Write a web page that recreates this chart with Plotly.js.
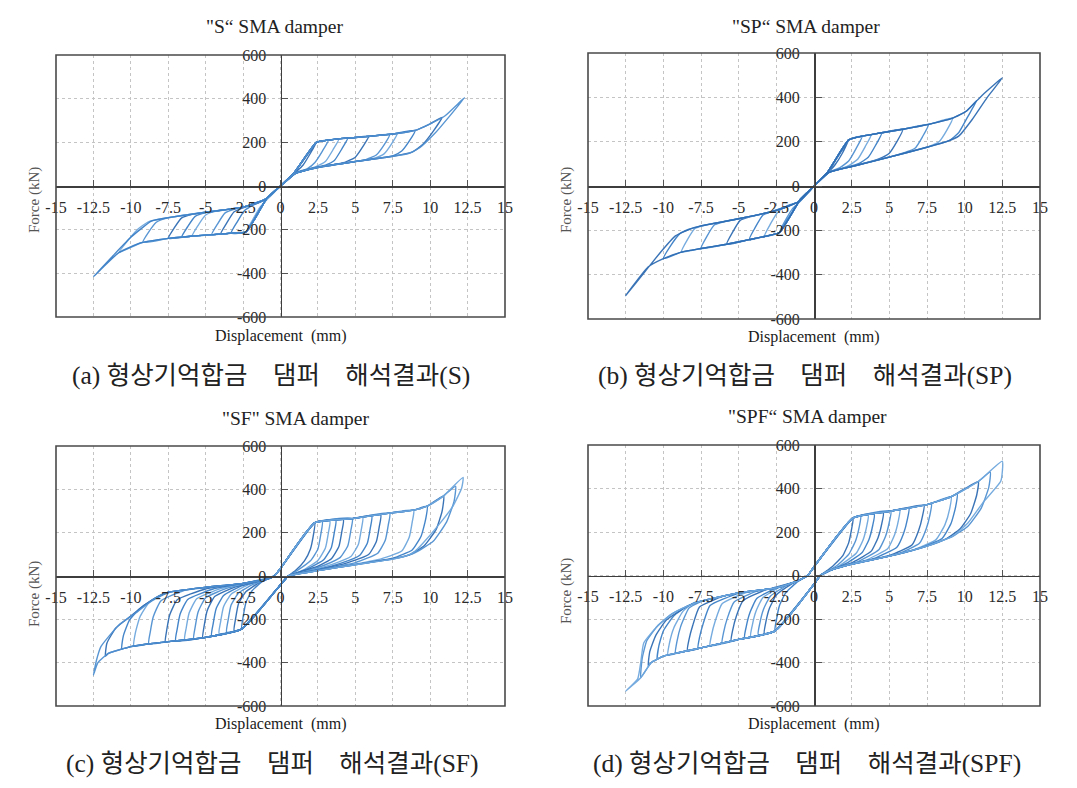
<!DOCTYPE html>
<html>
<head>
<meta charset="utf-8">
<script src="https://cdn.plot.ly/plotly-3.0.1.min.js"></script>
<style>html,body{margin:0;padding:0;background:#fff}#chart{width:1077px;height:788px}</style>
</head>
<body>
<div id="chart"></div>
<script>
// ---------- tick values ----------
const xTicks = [-15,-12.5,-10,-7.5,-5,-2.5,0,2.5,5,7.5,10,12.5,15];
const xTickText = ['-15','-12.5','-10','-7.5','-5','-2.5','0','2.5','5','7.5','10','12.5','15'];
const yTicks = [-600,-400,-200,0,200,400,600];
const yTickText = ['-600','-400','-200','0','200','400','600'];

// ---------- texts ----------
const panelTitles = ['"S\u201C SMA damper', '"SP\u201C SMA damper', '"SF" SMA damper', '"SPF\u201C SMA damper'];
const gap = '\u00a0\u00a0\u00a0 ';
const captions = ['(a) 형상기억합금' + gap + '댐퍼' + gap + '해석결과(S)', '(b) 형상기억합금' + gap + '댐퍼' + gap + '해석결과(SP)',
                  '(c) 형상기억합금' + gap + '댐퍼' + gap + '해석결과(SF)', '(d) 형상기억합금' + gap + '댐퍼' + gap + '해석결과(SPF)'];
const xTitle = 'Displacement\u00a0 (mm)';
const yTitle = 'Force (kN)';

// ---------- data: displacement (mm) / force (kN), loops separated by null ----------
const S_pos_x = [
0,0.9,2.4,2.0,1.5,1.0,0, null,
0,0.9,2.4,3.2,2.8,2.3,1.8,1,0, null,
0,0.9,2.4,3.2,3.9,3.5,3.0,2.4,1.5,1,0, null,
0,0.9,2.4,3.2,4,4.5,4.1,3.6,3.0,2,1,0, null,
0,0.9,2.4,3.2,4,5,5.9,5.5,5.0,4.3,3,2,1,0, null,
0,0.9,2.4,3.2,4,5,6,7.3,6.9,6.4,5.7,4,2.5,1,0, null,
0,0.9,2.4,3.2,4,5,6,7.5,7.8,7.4,6.9,6.2,5,2.5,1,0, null,
0,0.9,2.4,3.2,4,5,6,7.5,9,8.6,8.1,7.5,5,2.5,1,0, null,
0,0.9,2.4,3.2,4,5,6,7.5,9,10,10.8,10.2,9.5,8.8,7.5,5,2.5,1,0, null,
0,0.9,2.4,3.2,4,5,6,7.5,9,10,11,12.3,11.3,10.3,9.3,8.6,7.5,5,2.5,1,0];
const S_pos_y = [
0,60,200,150,95,62,0, null,
0,60,200,210,160,108,80,60,0, null,
0,60,200,210,216,165,112,90,70,59,0, null,
0,60,200,210,217,220,170,117,96,79,58,0, null,
0,60,200,210,217,222,228,180,132,108,92,78,58,0, null,
0,60,200,210,217,222,228,236,186,142,121,102,86,58,0, null,
0,60,200,210,217,222,228,238,241,191,146,126,112,85,58,0, null,
0,60,200,210,217,222,228,238,255,205,160,138,112,85,58,0, null,
0,60,200,210,217,222,228,238,255,285,315,250,190,155,136,112,85,58,0, null,
0,60,200,210,217,222,228,238,255,285,322,405,320,240,175,150,136,112,85,58,0];
const S_neg_x = [
0,-0.9,-2.3,-1.9,-1.4,-0.9,0, null,
0,-0.9,-2.3,-3.3,-2.9,-2.4,-1.8,-1,0, null,
0,-0.9,-2.3,-3.3,-4,-3.6,-3.1,-2.5,-1.5,-1,0, null,
0,-0.9,-2.3,-3.3,-4,-4.6,-4.2,-3.7,-3.0,-2,-1,0, null,
0,-0.9,-2.3,-3.3,-4,-5,-5.9,-5.5,-5.0,-4.3,-2.5,-1,0, null,
0,-0.9,-2.3,-3.3,-4,-5,-6,-6.6,-6.2,-5.7,-5.0,-2.5,-1,0, null,
0,-0.9,-2.3,-3.3,-4,-5,-6,-7.5,-7.1,-6.6,-5.9,-5,-2.5,-1,0, null,
0,-0.9,-2.3,-3.3,-4,-5,-6,-7.5,-9.2,-8.8,-8.3,-7.6,-5,-2.5,-1,0, null,
0,-0.9,-2.3,-3.3,-4,-5,-6,-7.5,-9.3,-10.8,-10.2,-9.5,-8.8,-7.5,-5,-2.5,-1,0, null,
0,-0.9,-2.3,-3.3,-4,-5,-6,-7.5,-9.3,-10.8,-12.5,-11.2,-10,-8.6,-7.5,-5,-2.5,-1,0];
const S_neg_y = [
0,-55,-210,-160,-100,-62,0, null,
0,-55,-210,-216,-165,-112,-86,-60,0, null,
0,-55,-210,-216,-220,-170,-118,-100,-78,-60,0, null,
0,-55,-210,-216,-220,-223,-173,-123,-104,-88,-60,0, null,
0,-55,-210,-216,-220,-225,-229,-180,-133,-114,-97,-60,0, null,
0,-55,-210,-216,-220,-225,-230,-234,-186,-139,-122,-97,-60,0, null,
0,-55,-210,-216,-220,-225,-230,-240,-192,-146,-130,-120,-97,-60,0, null,
0,-55,-210,-216,-220,-225,-230,-240,-258,-210,-166,-147,-120,-97,-60,0, null,
0,-55,-210,-216,-220,-225,-230,-240,-260,-305,-250,-196,-163,-145,-120,-97,-60,0, null,
0,-55,-210,-216,-220,-225,-230,-240,-260,-305,-415,-320,-235,-160,-145,-120,-97,-60,0];

const SP_pos_x = [
0,0.9,2.3,1.9,1.4,1,0, null,
0,0.9,2.3,3.2,2.8,2.3,1.7,1,0, null,
0,0.9,2.3,3.2,3.8,3.4,2.9,2.3,1.5,1,0, null,
0,0.9,2.3,3.2,3.8,4.5,4.1,3.6,3.0,2,1,0, null,
0,0.9,2.3,3.2,3.8,4.5,5.9,5.5,5.0,4.3,3,2,1,0, null,
0,0.9,2.3,3.2,3.8,4.5,5.9,7.6,7.2,6.7,6.0,5,2.5,1,0, null,
0,0.9,2.3,3.2,3.8,4.5,5.9,7.6,9.2,8.8,8.3,7.6,5,2.5,1,0, null,
0,0.9,2.3,3.2,3.8,4.5,5.9,7.6,9.2,10.1,10.8,10.2,9.6,9.0,7.5,5,2.5,1,0, null,
0,0.9,2.3,3.2,3.8,4.5,5.9,7.6,9.2,10.1,11.2,12.5,11.5,10.5,9.6,8.8,7.5,5,2.5,1,0];
const SP_pos_y = [
0,62,208,150,96,66,0, null,
0,62,208,225,170,113,82,63,0, null,
0,62,208,225,232,178,121,92,72,62,0, null,
0,62,208,225,232,240,185,130,102,81,62,0, null,
0,62,208,225,232,240,256,200,148,122,96,80,62,0, null,
0,62,208,225,232,240,256,278,222,170,150,131,88,62,0, null,
0,62,208,225,232,240,256,278,306,250,200,178,130,88,62,0, null,
0,62,208,225,232,240,256,278,306,337,385,312,240,206,175,130,88,62,0, null,
0,62,208,225,232,240,256,278,306,337,412,488,400,300,225,200,175,130,88,62,0];
const SP_neg_x = [
0,-0.9,-2.3,-1.9,-1.4,-0.9,0, null,
0,-0.9,-2.3,-3.3,-2.9,-2.4,-1.8,-1,0, null,
0,-0.9,-2.3,-3.3,-4.3,-3.9,-3.4,-2.8,-1.8,-1,0, null,
0,-0.9,-2.3,-3.3,-4.3,-5.8,-5.4,-4.9,-4.2,-2.5,-1,0, null,
0,-0.9,-2.3,-3.3,-4.3,-5.8,-7.5,-7.1,-6.6,-5.9,-5,-2.5,-1,0, null,
0,-0.9,-2.3,-3.3,-4.3,-5.8,-7.5,-8.8,-8.4,-7.9,-7.2,-5,-2.5,-1,0, null,
0,-0.9,-2.3,-3.3,-4.3,-5.8,-7.5,-8.8,-10,-9.5,-8.9,-8.3,-7.5,-5,-2.5,-1,0, null,
0,-0.9,-2.3,-3.3,-4.3,-5.8,-7.5,-8.8,-10,-11,-12.5,-11.2,-10.2,-9.2,-8.5,-7.5,-5,-2.5,-1,0];
const SP_neg_y = [
0,-60,-210,-155,-100,-68,0, null,
0,-60,-210,-228,-172,-118,-90,-70,0, null,
0,-60,-210,-228,-242,-187,-132,-115,-92,-70,0, null,
0,-60,-210,-228,-242,-263,-208,-155,-138,-110,-70,0, null,
0,-60,-210,-228,-242,-263,-282,-226,-175,-160,-148,-110,-70,0, null,
0,-60,-210,-228,-242,-263,-282,-298,-242,-192,-176,-148,-110,-70,0, null,
0,-60,-210,-228,-242,-263,-282,-298,-328,-268,-215,-195,-180,-148,-110,-70,0, null,
0,-60,-210,-228,-242,-263,-282,-298,-328,-365,-494,-385,-300,-225,-202,-180,-148,-110,-70,0];

const SF_pos_x = [
-0.4,0,2.3,2.2,2.0,1.6,1,0.5, null,
-0.4,0,2.3,2.8,2.7,2.5,2.0,1,0.5, null,
-0.4,0,2.3,3.3,3.2,3.0,2.5,1.5,0.5, null,
-0.4,0,2.3,3.7,3.6,3.4,2.9,2,1,0.5, null,
-0.4,0,2.3,4.2,4.1,3.9,3.4,2.5,1,0.5, null,
-0.4,0,2.3,4.8,4.7,4.5,4.0,3,1.5,0.5, null,
-0.4,0,2.3,4.8,5.5,5.4,5.2,4.7,3.5,2,1,0.5, null,
-0.4,0,2.3,4.8,6.1,6.0,5.8,5.3,4,2.5,1,0.5, null,
-0.4,0,2.3,4.8,6.7,6.6,6.4,5.9,4.5,2.5,1,0.5, null,
-0.4,0,2.3,4.8,7.3,7.2,7.0,6.5,5,2.5,1,0.5, null,
-0.4,0,2.3,4.8,7.3,8.9,8.8,8.6,8.1,6.5,5,2.5,1,0.5, null,
-0.4,0,2.3,4.8,7.3,8.9,9.8,9.7,9.4,8.8,7.5,5,2.5,1,0.5, null,
-0.4,0,2.3,4.8,7.3,8.9,9.8,10.9,10.8,10.4,9.6,8.6,7.5,5,2.5,1,0.5, null,
-0.4,0,2.3,4.8,7.3,8.9,9.8,10.9,11.7,11.6,11.1,10.2,9,8.5,7.5,5,2.5,1,0.5, null,
-0.4,0,2.3,4.8,7.3,8.9,9.8,10.9,12.2,12.1,11.5,10.5,9.5,9,8.5,7.5,5,2.5,1,0.5];
const SF_pos_y = [
0,35,246,190,125,70,25,0, null,
0,35,246,250,195,125,70,20,0, null,
0,35,246,254,199,129,72,27,0, null,
0,35,246,257,202,132,76,40,12,0, null,
0,35,246,261,206,136,80,45,12,0, null,
0,35,246,265,210,140,86,52,18,0, null,
0,35,246,265,270,215,145,90,55,25,9,0, null,
0,35,246,265,276,221,151,96,58,30,9,0, null,
0,35,246,265,283,228,158,100,62,28,8,0, null,
0,35,246,265,290,235,165,105,62,27,8,0, null,
0,35,246,265,290,304,249,179,115,75,55,25,8,0, null,
0,35,246,265,290,304,322,262,185,120,82,53,25,8,0, null,
0,35,246,265,290,304,322,370,300,215,140,97,80,52,25,8,0, null,
0,35,246,265,290,304,322,370,415,345,250,160,108,95,78,52,25,8,0, null,
0,35,246,265,290,304,322,370,455,405,320,230,150,115,95,78,52,25,8,0];
const SF_neg_x = [
0.5,0,-2.6,-2.5,-2.3,-1.9,-1.2,-0.4, null,
0.5,0,-2.6,-3.1,-3.0,-2.8,-2.3,-1.4,-0.4, null,
0.5,0,-2.6,-3.6,-3.5,-3.3,-2.8,-1.8,-0.8,-0.4, null,
0.5,0,-2.6,-4.1,-4.0,-3.8,-3.3,-2.2,-0.8,-0.4, null,
0.5,0,-2.6,-4.6,-4.5,-4.3,-3.8,-2.6,-0.8,-0.4, null,
0.5,0,-2.6,-5,-5.2,-5.1,-4.9,-4.4,-3,-1,-0.4, null,
0.5,0,-2.6,-5,-5.8,-5.7,-5.5,-5.0,-3.5,-1,-0.4, null,
0.5,0,-2.6,-5,-6.4,-6.3,-6.1,-5.6,-4,-2,-0.4, null,
0.5,0,-2.6,-5,-7.0,-6.9,-6.7,-6.2,-4.5,-2.5,-0.8,-0.4, null,
0.5,0,-2.6,-5,-7.5,-7.7,-7.6,-7.4,-6.9,-5,-2.5,-0.8,-0.4, null,
0.5,0,-2.6,-5,-7.5,-8.8,-8.7,-8.5,-8.0,-6.5,-5,-2.5,-0.8,-0.4, null,
0.5,0,-2.6,-5,-7.5,-9,-9.8,-9.7,-9.4,-8.8,-7.5,-5,-2.5,-0.8,-0.4, null,
0.5,0,-2.6,-5,-7.5,-9,-10,-10.6,-10.5,-10.1,-9.4,-8.4,-7.5,-5,-2.5,-0.8,-0.4, null,
0.5,0,-2.6,-5,-7.5,-9,-10,-11.5,-11.7,-11.6,-11.0,-10,-9,-8.4,-7.5,-5,-2.5,-0.8,-0.4, null,
0.5,0,-2.6,-5,-7.5,-9,-10,-11.5,-12.2,-12.5,-12.3,-12,-10.8,-9.7,-8.4,-7.5,-5,-2.5,-0.8,-0.4];
const SF_neg_y = [
0,-40,-245,-190,-120,-68,-25,0, null,
0,-40,-245,-252,-197,-127,-72,-30,0, null,
0,-40,-245,-259,-204,-134,-78,-38,-12,0, null,
0,-40,-245,-266,-211,-141,-84,-42,-12,0, null,
0,-40,-245,-276,-221,-151,-90,-46,-12,0, null,
0,-40,-245,-283,-285,-230,-160,-95,-50,-15,0, null,
0,-40,-245,-283,-290,-235,-165,-100,-55,-15,0, null,
0,-40,-245,-283,-295,-240,-170,-105,-58,-28,0, null,
0,-40,-245,-283,-299,-244,-174,-108,-60,-34,-12,0, null,
0,-40,-245,-283,-303,-304,-249,-179,-110,-60,-34,-12,0, null,
0,-40,-245,-283,-303,-313,-258,-188,-115,-68,-54,-34,-12,0, null,
0,-40,-245,-283,-303,-315,-324,-264,-190,-125,-78,-52,-34,-12,0, null,
0,-40,-245,-283,-303,-315,-326,-336,-276,-205,-150,-103,-75,-52,-34,-12,0, null,
0,-40,-245,-283,-303,-315,-326,-357,-370,-310,-240,-185,-130,-103,-75,-52,-34,-12,0, null,
0,-40,-245,-283,-303,-315,-326,-357,-400,-457,-390,-326,-226,-172,-103,-75,-52,-34,-12,0];

const SPF_pos_x = [
-0.4,0,2.6,2.5,2.3,1.9,1.2,0.4, null,
-0.4,0,2.6,3.1,3.0,2.75,2.3,1.5,0.4, null,
-0.4,0,2.6,3.6,3.5,3.25,2.8,1.8,0.8,0.4, null,
-0.4,0,2.6,4.0,3.9,3.65,3.2,2.2,1,0.4, null,
-0.4,0,2.6,4.6,4.5,4.25,3.8,2.6,1,0.4, null,
-0.4,0,2.6,5.1,5.0,4.75,4.3,3,1,0.4, null,
-0.4,0,2.6,5.1,5.7,5.6,5.35,4.9,3.5,2,1,0.4, null,
-0.4,0,2.6,5.1,6.3,6.2,5.95,5.5,4,2.5,1,0.4, null,
-0.4,0,2.6,5.1,7.3,7.2,6.95,6.5,5,2.5,1,0.4, null,
-0.4,0,2.6,5.1,7.5,7.8,7.7,7.45,7.0,5.5,2.5,1,0.4, null,
-0.4,0,2.6,5.1,7.5,9.1,9.0,8.7,8.1,6.5,5,2.5,1,0.4, null,
-0.4,0,2.6,5.1,7.5,9.1,9.5,9.4,9.1,8.5,7,5,2.5,1,0.4, null,
-0.4,0,2.6,5.1,7.5,9.1,10.9,10.8,10.4,9.7,8.8,7.5,5,2.5,1,0.4, null,
-0.4,0,2.6,5.1,7.5,9.1,10.9,11.7,11.6,11.1,10.2,9.2,8.5,7.5,5,2.5,1,0.4, null,
-0.4,0,2.6,5.1,7.5,9.1,10.9,12.5,12.4,11.2,10.2,9.2,8.5,7.5,5,2.5,1,0.4];
const SPF_pos_y = [
0,40,265,215,150,90,40,0, null,
0,40,265,272,222,157,97,45,0, null,
0,40,265,277,227,162,102,50,12,0, null,
0,40,265,281,231,166,106,58,20,0, null,
0,40,265,289,239,174,112,62,22,0, null,
0,40,265,296,246,181,118,66,22,0, null,
0,40,265,296,302,252,187,124,72,42,22,0, null,
0,40,265,296,309,259,194,130,78,52,22,0, null,
0,40,265,296,323,273,208,140,92,52,22,0, null,
0,40,265,296,326,330,280,215,148,98,52,22,0, null,
0,40,265,296,326,362,305,235,165,115,89,52,22,0, null,
0,40,265,296,326,362,375,315,240,170,125,89,52,22,0, null,
0,40,265,296,326,362,432,370,285,215,170,135,89,52,22,0, null,
0,40,265,296,326,362,432,475,405,310,225,180,160,135,89,52,22,0, null,
0,40,265,296,326,362,432,526,434,334,240,180,160,135,89,52,22,0];
const SPF_neg_x = [
0.4,0,-2.6,-2.5,-2.3,-1.9,-1.2,-0.4, null,
0.4,0,-2.6,-3.3,-3.2,-2.95,-2.5,-1.5,-0.4, null,
0.4,0,-2.6,-3.7,-3.6,-3.35,-2.9,-1.8,-0.8,-0.4, null,
0.4,0,-2.6,-4.2,-4.1,-3.85,-3.4,-2.3,-1.1,-0.4, null,
0.4,0,-2.6,-4.6,-4.5,-4.25,-3.8,-2.6,-1.1,-0.4, null,
0.4,0,-2.6,-5,-5.5,-5.4,-5.15,-4.7,-3.3,-1.1,-0.4, null,
0.4,0,-2.6,-5,-6.1,-6.0,-5.75,-5.3,-3.8,-2.5,-1.1,-0.4, null,
0.4,0,-2.6,-5,-6.9,-6.8,-6.55,-6.1,-4.5,-2.5,-1.1,-0.4, null,
0.4,0,-2.6,-5,-7.5,-7.7,-7.6,-7.35,-6.9,-5,-2.5,-1.1,-0.4, null,
0.4,0,-2.6,-5,-7.5,-8.4,-8.3,-8.05,-7.6,-6,-5,-2.5,-1.1,-0.4, null,
0.4,0,-2.6,-5,-7.5,-9,-9.2,-9.1,-8.85,-8.3,-7.5,-5,-2.5,-1.1,-0.4, null,
0.4,0,-2.6,-5,-7.5,-9,-9.7,-9.6,-9.3,-8.7,-8.0,-7.5,-5,-2.5,-1.1,-0.4, null,
0.4,0,-2.6,-5,-7.5,-9,-10,-10.4,-10.3,-10.0,-9.3,-8.4,-7.5,-5,-2.5,-1.1,-0.4, null,
0.4,0,-2.6,-5,-7.5,-9,-10,-10.8,-11.0,-10.9,-10.5,-9.8,-8.4,-7.5,-5,-2.5,-1.1,-0.4, null,
0.4,0,-2.6,-5,-7.5,-9,-10,-10.8,-11.5,-11.4,-11.1,-10.4,-9.5,-8.4,-7.5,-5,-2.5,-1.1,-0.4, null,
0.4,0,-2.6,-5,-7.5,-9,-10,-10.8,-11.5,-12.5,-11.7,-11.5,-11.3,-10.4,-9.4,-8.4,-7.5,-5,-2.5,-1.1,-0.4];
const SPF_neg_y = [
0,-40,-256,-206,-140,-82,-35,0, null,
0,-40,-256,-266,-216,-150,-90,-40,0, null,
0,-40,-256,-271,-221,-155,-95,-45,-15,0, null,
0,-40,-256,-280,-230,-164,-102,-55,-26,0, null,
0,-40,-256,-286,-236,-170,-106,-60,-26,0, null,
0,-40,-256,-294,-302,-252,-186,-115,-68,-26,0, null,
0,-40,-256,-294,-312,-262,-196,-122,-72,-57,-26,0, null,
0,-40,-256,-294,-324,-274,-208,-130,-78,-57,-26,0, null,
0,-40,-256,-294,-333,-336,-286,-220,-138,-82,-57,-26,0, null,
0,-40,-256,-294,-333,-346,-296,-230,-145,-95,-80,-57,-26,0, null,
0,-40,-256,-294,-333,-355,-358,-305,-235,-150,-120,-80,-57,-26,0, null,
0,-40,-256,-294,-333,-355,-366,-313,-240,-165,-126,-118,-80,-57,-26,0, null,
0,-40,-256,-294,-333,-355,-371,-385,-325,-255,-185,-141,-118,-80,-57,-26,0, null,
0,-40,-256,-294,-333,-355,-371,-400,-415,-350,-275,-205,-141,-118,-80,-57,-26,0, null,
0,-40,-256,-294,-333,-355,-371,-400,-470,-380,-300,-233,-180,-141,-118,-80,-57,-26,0, null,
0,-40,-256,-294,-333,-355,-371,-400,-470,-532,-475,-400,-310,-233,-175,-141,-118,-80,-57,-26,0];

// ---------- layout geometry (pixels in the 1077x788 page) ----------
const W = 1077, H = 788;
const panels = [
  {data:[[S_pos_x,S_pos_y],[S_neg_x,S_neg_y]],     box:[56,505,55,317],  title:[274,27],  cap:[271,375], xt:[281,336], yt:[34,200]},
  {data:[[SP_pos_x,SP_pos_y],[SP_neg_x,SP_neg_y]], box:[588,1040,53,319],title:[806,27],  cap:[805,375], xt:[814,337], yt:[566,200]},
  {data:[[SF_pos_x,SF_pos_y],[SF_neg_x,SF_neg_y]], box:[56,505,446,706], title:[296,418], cap:[272,763], xt:[281,724], yt:[34,594]},
  {data:[[SPF_pos_x,SPF_pos_y],[SPF_neg_x,SPF_neg_y]],box:[588,1040,445,706],title:[807,417],cap:[807,763],xt:[814,724],yt:[566,591]}
];
const lineColors = ['#2f6db3','#4f8fd1','#6ea6dc','#3a7ec6'];
const serif = 'Liberation Serif, Times New Roman, serif';

function splitLoops(xs, ys) {
  const out = []; let cx = [], cy = [];
  for (let i = 0; i < xs.length; i++) {
    if (xs[i] === null) { if (cx.length) out.push([cx, cy]); cx = []; cy = []; }
    else { cx.push(xs[i]); cy.push(ys[i]); }
  }
  if (cx.length) out.push([cx, cy]);
  return out;
}

const traces = [];
const layout = {
  width: W, height: H, margin: {l:0, r:0, t:0, b:0},
  paper_bgcolor: '#fff', plot_bgcolor: '#fff', showlegend: false,
  shapes: [], annotations: []
};
const px = v => v / W, py = v => 1 - v / H;

panels.forEach((p, i) => {
  const n = i === 0 ? '' : String(i + 1);
  const [x0, x1, y0, y1] = p.box;
  const xd = [px(x0), px(x1)], yd = [py(y1), py(y0)];
  let k = 0;
  p.data.forEach(([xs, ys]) => {
    splitLoops(xs, ys).forEach(([lx, ly]) => {
      traces.push({
        x: lx, y: ly, xaxis: 'x' + n, yaxis: 'y' + n, type: 'scatter', mode: 'lines',
        line: {color: lineColors[k % lineColors.length], width: 1.4, shape: 'spline', smoothing: 0.45},
        opacity: 0.95, hoverinfo: 'skip', showlegend: false
      });
      k++;
    });
  });
  layout['xaxis' + n] = {
    domain: xd, range: [-15, 15], anchor: 'free', position: (yd[0] + yd[1]) / 2, side: 'bottom',
    tickmode: 'array', tickvals: xTicks, ticktext: xTickText,
    ticks: 'inside', ticklen: 6, tickwidth: 1, tickcolor: '#555', ticklabelstandoff: 6,
    showline: true, linecolor: '#3d3d3d', linewidth: 1.5,
    showgrid: true, gridcolor: '#c4c4c4', griddash: 'dot', gridwidth: 1, zeroline: false,
    tickfont: {family: serif, size: 16, color: '#2a2a2a'}, fixedrange: true
  };
  layout['yaxis' + n] = {
    domain: yd, range: [-600, 600], anchor: 'free', position: (xd[0] + xd[1]) / 2, side: 'left',
    tickmode: 'array', tickvals: yTicks, ticktext: yTickText,
    ticks: 'inside', ticklen: 6, tickwidth: 1, tickcolor: '#555', ticklabelstandoff: 11,
    showline: true, linecolor: '#3d3d3d', linewidth: 1.5,
    showgrid: true, gridcolor: '#c4c4c4', griddash: 'dot', gridwidth: 1, zeroline: false,
    tickfont: {family: serif, size: 16, color: '#2a2a2a'}, fixedrange: true
  };
  layout.shapes.push({type: 'rect', xref: 'paper', yref: 'paper', x0: xd[0], x1: xd[1], y0: yd[0], y1: yd[1],
    line: {color: '#4a4a4a', width: 1.6}, fillcolor: 'rgba(0,0,0,0)', layer: 'above'});
  layout.annotations.push(
    {text: panelTitles[i], x: px(p.title[0]), y: py(p.title[1]), xref: 'paper', yref: 'paper', showarrow: false,
     xanchor: 'center', yanchor: 'middle', font: {family: serif, size: 19.5, color: '#222'}},
    {text: xTitle, x: px(p.xt[0]), y: py(p.xt[1]), xref: 'paper', yref: 'paper', showarrow: false,
     xanchor: 'center', yanchor: 'middle', font: {family: serif, size: 16, color: '#1a1a1a'}},
    {text: yTitle, x: px(p.yt[0]), y: py(p.yt[1]), xref: 'paper', yref: 'paper', showarrow: false, textangle: -90,
     xanchor: 'center', yanchor: 'middle', font: {family: serif, size: 15, color: '#555'}},
    {text: captions[i], x: px(p.cap[0]), y: py(p.cap[1]), xref: 'paper', yref: 'paper', showarrow: false,
     xanchor: 'center', yanchor: 'middle', font: {family: "Liberation Serif, 'Noto Sans CJK KR', serif", size: 25.5, color: '#222'}}
  );
});

Plotly.newPlot('chart', traces, layout, {staticPlot: true, displayModeBar: false});
</script>
</body>
</html>
